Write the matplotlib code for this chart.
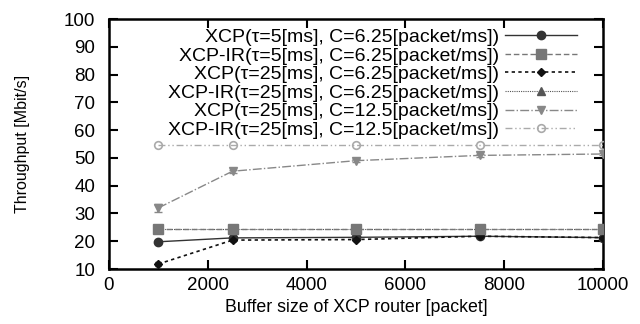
import matplotlib
matplotlib.use('Agg')
import matplotlib.pyplot as plt

plt.rcParams['font.family'] = ['Liberation Sans', 'DejaVu Sans']

# buffer sizes [packet]
buf = [1000, 2500, 5000, 7500, 10000]

# throughput [Mbit/s]
xcp_t5_c625 = [19.8, 21.2, 21.4, 21.8, 21.3]
xcpir_t5_c625 = [24.4, 24.4, 24.4, 24.4, 24.4]
xcp_t25_c625 = [11.8, 20.4, 20.6, 21.8, 21.3]
xcpir_t25_c625 = [24.4, 24.4, 24.4, 24.4, 24.4]
xcp_t25_c125 = [32.0, 45.2, 49.0, 50.9, 51.4]
xcpir_t25_c125 = [54.8, 54.8, 54.8, 54.8, 54.8]

# small error bars
err_t25_c125 = [1.3, 0.6, 0.6, 0.5, 0.5]
err_t25_c625 = [0.8, 0.4, 0.4, 0.3, 0.3]

labels = ['XCP(\u03c4=5[ms], C=6.25[packet/ms])',
          'XCP-IR(\u03c4=5[ms], C=6.25[packet/ms])',
          'XCP(\u03c4=25[ms], C=6.25[packet/ms])',
          'XCP-IR(\u03c4=25[ms], C=6.25[packet/ms])',
          'XCP(\u03c4=25[ms], C=12.5[packet/ms])',
          'XCP-IR(\u03c4=25[ms], C=12.5[packet/ms])']

fig = plt.figure(figsize=(6.4, 3.24), dpi=100)
ax = fig.add_axes([109 / 640, 55 / 324, 494 / 640, 250 / 324])

h1, = ax.plot(buf, xcp_t5_c625, '-', color='#333333', marker='o', ms=6, lw=1,
              zorder=4, label=labels[0])
h2, = ax.plot(buf, xcpir_t5_c625, linestyle=(0, (4, 2)), color='#777777', marker='s', ms=6.5,
              lw=1, zorder=5, label=labels[1])
h3 = ax.errorbar(buf, xcp_t25_c625, yerr=err_t25_c625, fmt='none', ecolor='#111111',
                 capsize=2, zorder=4)
l3, = ax.plot(buf, xcp_t25_c625, linestyle=(0, (2, 2)), color='#111111', marker='D', ms=4.5,
              lw=1.2, zorder=4, label=labels[2])
h4, = ax.plot(buf, xcpir_t25_c625, linestyle=(0, (1, 1)), color='#555555', marker='^', ms=5.5,
              lw=0.8, zorder=3, label=labels[3])
h5 = ax.errorbar(buf, xcp_t25_c125, yerr=err_t25_c125, fmt='none', ecolor='#888888',
                 capsize=3, zorder=4)
l5, = ax.plot(buf, xcp_t25_c125, '-.', color='#888888', marker='v', ms=6, lw=1, zorder=4,
              label=labels[4])
h6, = ax.plot(buf, xcpir_t25_c125, linestyle=(0, (5, 2, 1, 2, 1, 2)), color='#aaaaaa',
              marker='o', ms=5.5, mfc='none', mew=1.2, lw=1, zorder=4, label=labels[5])

ax.set_xlim(0, 10000)
ax.set_ylim(10, 100)
ax.set_xticks([0, 2000, 4000, 6000, 8000, 10000])
ax.set_yticks(range(10, 101, 10))
ax.tick_params(direction='in', top=True, right=True, length=6.5, width=1.5, labelsize=13.5)
ax.tick_params(axis='y', pad=10)
ax.tick_params(axis='x', pad=6)
for s in ax.spines.values():
    s.set_linewidth(1.8)

ax.set_xlabel('Buffer size of XCP router [packet]', fontsize=12.8, labelpad=3)
ax.set_ylabel('Throughput [Mbit/s]', fontsize=11.5, labelpad=24)

# legend without error bars, like the original
leg = ax.legend([h1, h2, l3, h4, l5, h6], labels, loc='upper right',
                bbox_to_anchor=(1 - 26 / 494, 0.962), frameon=False, markerfirst=False,
                fontsize=14, handlelength=3.7, labelspacing=0.05, borderaxespad=0,
                borderpad=0, handletextpad=0.3)
for t in leg.get_texts():
    t.set_ha('right')
leg._legend_box.align = 'right'

fig.savefig('out.png', dpi=100)
